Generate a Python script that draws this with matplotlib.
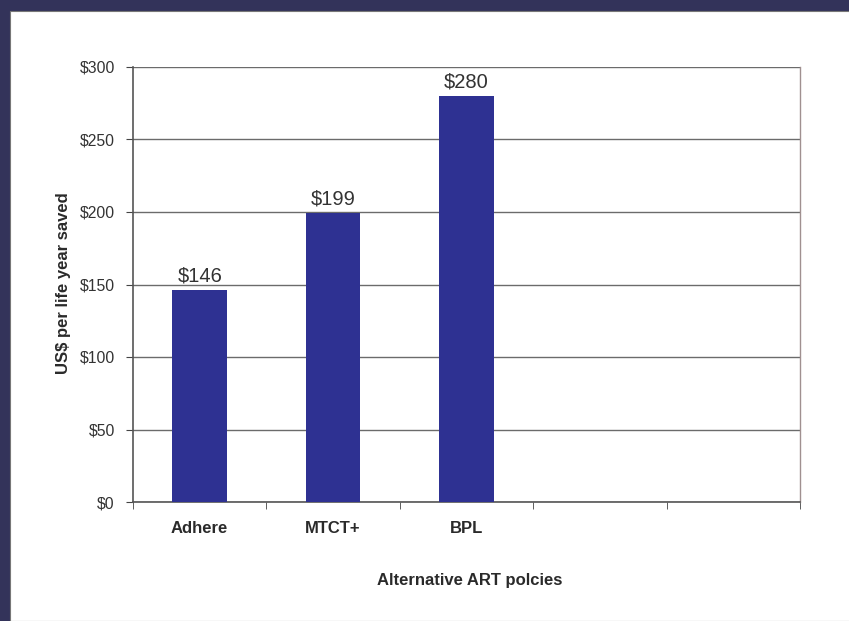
import matplotlib.pyplot as plt
from matplotlib.patches import Rectangle

# Cost per life year saved for each ART policy
policies = ['Adhere', 'MTCT+', 'BPL', '', '']
costs = [146, 199, 280]
y_ticks = [0, 50, 100, 150, 200, 250, 300]

plt.rcParams['font.family'] = ['Liberation Sans', 'DejaVu Sans']

fig = plt.figure(figsize=(8.49, 6.21), dpi=100, facecolor='#33335a')
# white slide panel inside the dark frame
fig.patches.append(Rectangle((10 / 849, 0), 1, (621 - 11) / 621,
                             transform=fig.transFigure, facecolor='white',
                             edgecolor='#777777', linewidth=0.8, zorder=-1))

ax = fig.add_axes([133 / 849, (621 - 502) / 621, 667 / 849, 435 / 621])
ax.set_zorder(1)
ax.set_facecolor('white')

x = list(range(len(costs)))
bars = ax.bar(x, costs, width=0.41, color='#2e3192', zorder=3)
for xi, v in zip(x, costs):
    ax.annotate(f'${v}', (xi, v), xytext=(0, 6.3), textcoords='offset points',
                ha='center', va='baseline', fontsize=14.5, color='#333333',
                zorder=4)

ax.set_xlim(-0.5, len(policies) - 0.5)
ax.set_ylim(0, 300)
ax.set_yticks(y_ticks)
ax.set_yticklabels([f'${t}' for t in y_ticks], fontsize=11.3, color='#333333')
ax.yaxis.grid(True, color='#6b6b6b', linewidth=1.0, zorder=0)
ax.set_axisbelow(True)

# category labels centred, ticks on category boundaries
ax.set_xticks(range(len(policies)))
ax.set_xticklabels(policies, fontsize=12, fontweight='bold', color='#2a2a2a')
ax.tick_params(axis='x', length=0, pad=13.7)
ax.set_xticks([i - 0.5 for i in range(len(policies) + 1)], minor=True)
ax.tick_params(axis='x', which='minor', length=5, color='#444444')
ax.tick_params(axis='y', length=5, color='#444444', pad=8)

for side in ['left', 'bottom']:
    ax.spines[side].set_color('#555555')
    ax.spines[side].set_linewidth(1.2)
ax.spines['top'].set_visible(False)
ax.spines['right'].set_color('#a09090')
ax.spines['right'].set_linewidth(1.0)

ax.set_ylabel('US$ per life year saved', fontsize=12, fontweight='bold',
              color='#2a2a2a', ha='center', va='center')
ax.yaxis.set_label_coords(-0.1042, 0.503)
ax.set_xlabel('Alternative ART polcies', fontsize=12, fontweight='bold',
              color='#2a2a2a', ha='center', va='center')
ax.xaxis.set_label_coords(0.5045, -0.1816)

plt.savefig('out.png', dpi=100, facecolor=fig.get_facecolor())
